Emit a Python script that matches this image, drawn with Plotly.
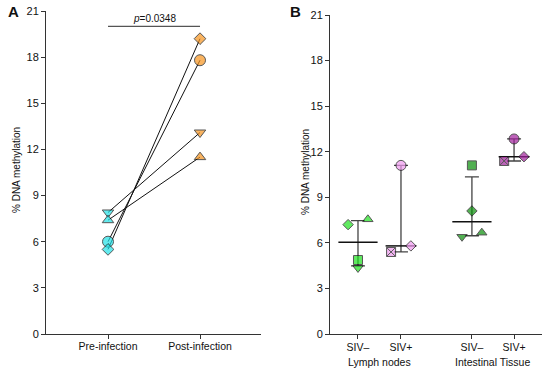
import numpy as np
import plotly.graph_objects as go

# ---------------- data ----------------
# Panel A: paired samples (same subject -> same symbol)
subjects = ["S1", "S2", "S3", "S4"]
subject_symbols = ["triangle-down", "triangle-up", "circle", "diamond"]
pre_infection = [7.9, 7.4, 6.0, 5.5]
post_infection = [13.1, 11.5, 17.8, 19.2]
a_categories = ["Pre-infection", "Post-infection"]
p_value_text = "<i>p</i>=0.0348"
y_title = "% DNA methylation"

# Panel B
b_categories = ["SIV–", "SIV+", "SIV–", "SIV+"]
b_groups = ["Lymph nodes", "Intestinal Tissue"]
ln_neg_vals = [7.2, 7.55, 4.87, 4.35]
ln_neg_sym = ["diamond", "triangle-up", "square", "triangle-down"]
ln_pos_vals = [11.1, 5.4, 5.8]
ln_pos_sym = ["circle", "square-x", "diamond"]
it_neg_vals = [11.1, 8.1, 6.4, 6.67]
it_neg_sym = ["square", "diamond", "triangle-down", "triangle-up"]
it_pos_vals = [12.84, 11.39, 11.67]
it_pos_sym = ["circle", "square-x", "diamond"]

y_ticks = [0, 3, 6, 9, 12, 15, 18, 21]

# ---------------- style / layout ----------------
FONT = "Liberation Sans, Arial, sans-serif"
AXC = "#333333"
TXT = "#111111"
cyan = "#22e2e8"
orange = "#f7941d"
lgreen = "#1ee01e"
pink = "#f09af0"
dgreen = "#0a8f0a"
purple = "#a3229e"

SYM_SIZE = {"circle": 10, "square": 9, "square-x": 9, "diamond": 8,
            "triangle-up": 9, "triangle-down": 9}

b_pos = [0, 1, 2.65, 3.63]
jit_ln_neg = [-0.23, 0.23, 0, 0]
jit_ln_pos = [0, -0.23, 0.23]
jit_it_neg = [0, 0, -0.23, 0.23]
jit_it_pos = [0, -0.23, 0.23]

fig = go.Figure()

# Panel A lines
for i in range(len(subjects)):
    fig.add_trace(go.Scatter(x=[0, 1], y=[pre_infection[i], post_infection[i]],
                             mode="lines", line=dict(color="#111111", width=1),
                             xaxis="x", yaxis="y", showlegend=False, hoverinfo="skip"))
a_sizes = [SYM_SIZE[s] + 1 for s in subject_symbols]
fig.add_trace(go.Scatter(x=[0] * 4, y=pre_infection, mode="markers",
                         marker=dict(symbol=subject_symbols, size=a_sizes, color=cyan,
                                     line=dict(color="#111111", width=1)),
                         xaxis="x", yaxis="y", showlegend=False))
fig.add_trace(go.Scatter(x=[1] * 4, y=post_infection, mode="markers",
                         marker=dict(symbol=subject_symbols, size=a_sizes, color=orange,
                                     line=dict(color="#111111", width=1)),
                         xaxis="x", yaxis="y", showlegend=False))

# Panel B
groups = [
    (ln_neg_vals, ln_neg_sym, jit_ln_neg, lgreen, 28),
    (ln_pos_vals, ln_pos_sym, jit_ln_pos, pink, 22),
    (it_neg_vals, it_neg_sym, jit_it_neg, dgreen, 28),
    (it_pos_vals, it_pos_sym, jit_it_pos, purple, 22),
]
for gi, (vals, syms, jit, col, mw) in enumerate(groups):
    v = np.array(vals)
    med = float(np.median(v))
    q1 = float(np.percentile(v, 25, method="weibull"))
    q3 = float(np.percentile(v, 75, method="weibull"))
    fig.add_trace(go.Scatter(x=[b_pos[gi]], y=[med], mode="markers",
                             marker=dict(symbol="line-ew", size=mw,
                                         line=dict(color="#111111", width=1.5)),
                             error_y=dict(type="data", symmetric=False,
                                          array=[q3 - med], arrayminus=[med - q1],
                                          color="#444444", thickness=1.3, width=7),
                             xaxis="x2", yaxis="y2", showlegend=False))
    fig.add_trace(go.Scatter(x=[b_pos[gi] + j for j in jit], y=vals, mode="markers",
                             marker=dict(symbol=syms, size=[SYM_SIZE[s] for s in syms],
                                         color=col, line=dict(color="#111111", width=1)),
                             xaxis="x2", yaxis="y2", showlegend=False))

# p-value bracket
fig.add_shape(type="line", x0=0, x1=1, y0=20, y1=20, xref="x", yref="y",
              line=dict(color="#555555", width=1.3))
fig.add_annotation(x=0.5, y=20.05, xref="x", yref="y", text=p_value_text,
                   showarrow=False, yanchor="bottom", font=dict(size=10, color=TXT))

# y-axis titles
fig.add_annotation(x=16 / 550, y=1 - 170 / 373, xref="paper", yref="paper", text=y_title,
                   textangle=-90, showarrow=False, xanchor="center", yanchor="middle",
                   font=dict(size=10, color=TXT))
fig.add_annotation(x=305 / 550, y=1 - 172 / 373, xref="paper", yref="paper", text=y_title,
                   textangle=-90, showarrow=False, xanchor="center", yanchor="middle",
                   font=dict(size=10, color=TXT))

# group labels
fig.add_annotation(x=(b_pos[0] + b_pos[1]) / 2, y=1 - 362 / 373, xref="x2", yref="paper",
                   text=b_groups[0], showarrow=False, yanchor="middle",
                   font=dict(size=10.5, color=TXT))
fig.add_annotation(x=(b_pos[2] + b_pos[3]) / 2, y=1 - 362 / 373, xref="x2", yref="paper",
                   text=b_groups[1], showarrow=False, yanchor="middle",
                   font=dict(size=10.5, color=TXT))

# panel letters
fig.add_annotation(x=6 / 550, y=1 - 11 / 373, xref="paper", yref="paper", text="<b>A</b>",
                   showarrow=False, xanchor="left", yanchor="middle",
                   font=dict(size=15, color=TXT))
fig.add_annotation(x=288 / 550, y=1 - 11 / 373, xref="paper", yref="paper", text="<b>B</b>",
                   showarrow=False, xanchor="left", yanchor="middle",
                   font=dict(size=15, color=TXT))

axis_common = dict(showline=True, linecolor=AXC, linewidth=1, ticks="outside",
                   tickcolor=AXC, ticklen=4, showgrid=False, zeroline=False,
                   automargin=False)
xfont = dict(size=10.5, color=TXT)
yfont = dict(size=11, color=TXT)

fig.update_layout(
    width=550, height=373, margin=dict(l=0, r=0, t=0, b=0),
    paper_bgcolor="white", plot_bgcolor="white",
    font=dict(family=FONT, color=TXT),
    xaxis=dict(domain=[46 / 550, 261 / 550], range=[-0.674, 1.663], tickfont=xfont,
               ticklabelstandoff=-2,
               tickvals=[0, 1], ticktext=a_categories, anchor="y", **axis_common),
    yaxis=dict(domain=[1 - 334 / 373, 1 - 11 / 373], range=[0, 21], tickvals=y_ticks,
               tickfont=yfont, anchor="x", **axis_common),
    xaxis2=dict(domain=[330 / 550, 542 / 550], range=[-0.651, 4.28], tickfont=xfont,
                ticklabelstandoff=-1,
                tickvals=b_pos, ticktext=b_categories, anchor="y2", **axis_common),
    yaxis2=dict(domain=[1 - 334 / 373, 1 - 15 / 373], range=[0, 21], tickvals=y_ticks,
                tickfont=yfont, anchor="x2", **axis_common),
)

fig.write_html("out.html", config={"displayModeBar": False},
               post_script="document.body.style.margin='0';document.body.style.padding='0';")
